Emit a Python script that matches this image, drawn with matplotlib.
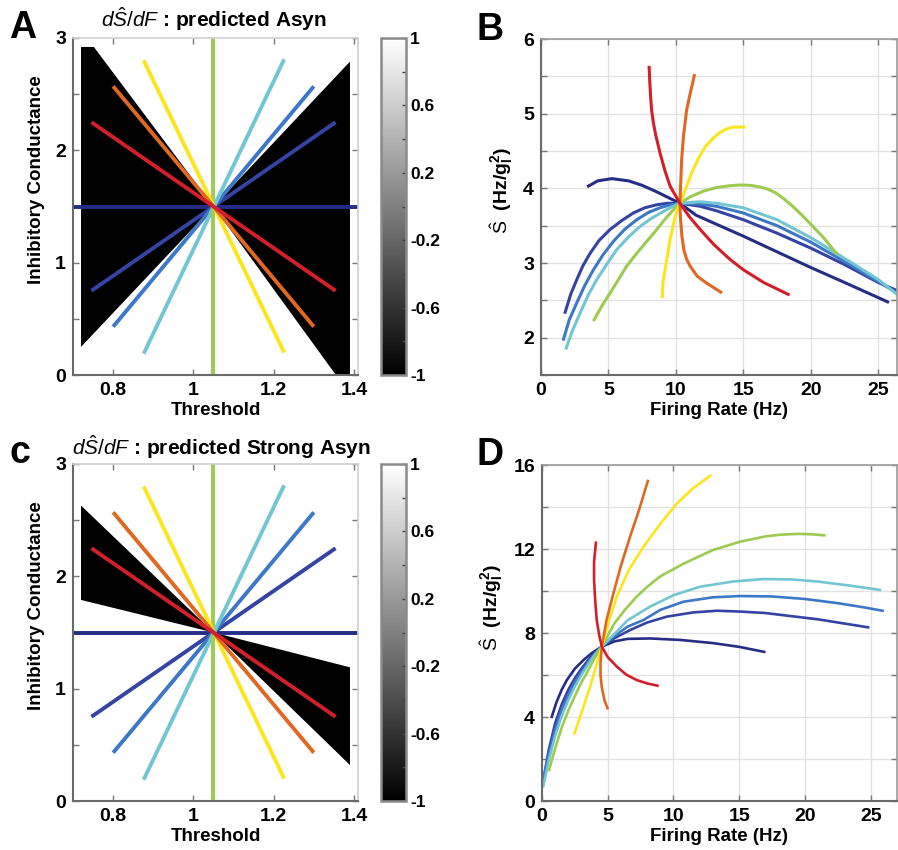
import numpy as np
import matplotlib.pyplot as plt
from matplotlib.ticker import MultipleLocator, FixedLocator, FuncFormatter
from matplotlib.cm import ScalarMappable
from matplotlib.colors import Normalize

plt.rcParams['font.family'] = ['Liberation Sans', 'DejaVu Sans']
plt.rcParams['font.weight'] = 'bold'
plt.rcParams['axes.unicode_minus'] = False
plt.rcParams['mathtext.fontset'] = 'custom'
plt.rcParams['mathtext.rm'] = 'Liberation Sans:weight=normal'
plt.rcParams['mathtext.it'] = 'Liberation Sans:style=italic:weight=normal'
plt.rcParams['mathtext.bf'] = 'Liberation Sans:weight=bold'

# line colours, dark blue -> red (same order in every panel)
line_colors = ['#252d85', '#3443a4', '#3d78c8', '#72c6d3',
               '#9dcb4f', '#fbe51d', '#e06822', '#d21f2a']

# A / C: straight paths through parameter space (threshold, inhibitory conductance)
thr_start = [0.70, 0.746, 0.80, 0.876, 1.05, 0.876, 0.80, 0.746]
thr_end = [1.41, 1.354, 1.30, 1.226, 1.05, 1.226, 1.30, 1.354]
gi_start = [1.5, 0.75, 0.43, 0.19, 0.0, 2.80, 2.57, 2.25]
gi_end = [1.5, 2.25, 2.57, 2.81, 3.0, 0.20, 0.43, 0.75]

# regions where dS/dF < 0 (black)
a_neg_left_x = [0.72, 0.752, 1.05, 0.72]
a_neg_left_y = [2.92, 2.92, 1.5, 0.25]
a_neg_right_x = [1.05, 1.39, 1.39, 1.355]
a_neg_right_y = [1.5, 2.79, 0.0, 0.0]
c_neg_left_x = [0.72, 1.05, 0.72]
c_neg_left_y = [2.63, 1.5, 1.79]
c_neg_right_x = [1.05, 1.39, 1.39]
c_neg_right_y = [1.5, 1.19, 0.32]

# B: S-hat vs firing rate (Asyn)
b_x = [
    [3.52, 4.2, 5.25, 6.5, 7.5, 8.5, 9.4, 10.3, 11.5, 13, 15, 17.5, 20, 22.5, 25.7],
    [1.79, 2.2, 2.66, 3.1, 3.64, 4.3, 5.13, 6.0, 6.85, 7.7, 8.58, 9.4, 10.3,
     11.8, 13, 15, 17.5, 20, 22.5, 25, 26.4],
    [1.67, 2.1, 2.66, 3.25, 3.89, 4.6, 5.37, 6.2, 7.1, 8.0, 8.83, 9.6, 10.3,
     11.8, 13, 15, 17.5, 20, 22.5, 25, 26.4],
    [1.87, 2.3, 2.9, 3.5, 4.14, 4.9, 5.62, 6.5, 7.35, 8.2, 9.07, 9.7, 10.3,
     11.8, 13, 15, 17.5, 20, 21.9, 23.5, 25, 26.4],
    [3.94, 4.5, 5.13, 5.75, 6.36, 7.1, 7.84, 8.5, 9.07, 9.7, 10.3,
     11, 12, 13, 14, 14.8, 15.5, 16.2, 16.8, 17.4, 18, 18.6, 19.3, 20, 21, 21.9],
    [9.0, 9.05, 9.2, 9.4, 9.57, 9.94, 10.3, 10.7, 11.2, 11.7, 12.2, 12.7,
     13.2, 13.7, 14.2, 15.05],
    [13.33, 12.29, 11.6, 11.05, 10.8, 10.6, 10.45, 10.35, 10.3, 10.36, 10.43,
     10.56, 10.8, 11.1, 11.37],
    [8.02, 8.06, 8.12, 8.2, 8.33, 8.5, 8.83, 9.2, 9.57, 10.3, 11.0, 11.8,
     12.8, 14.0, 15.0, 16.5, 18.33],
]
b_y = [
    [4.03, 4.10, 4.13, 4.10, 4.04, 3.96, 3.88, 3.80, 3.64, 3.52, 3.36, 3.15,
     2.94, 2.74, 2.48],
    [2.34, 2.58, 2.78, 2.96, 3.13, 3.30, 3.45, 3.57, 3.67, 3.74, 3.78, 3.80,
     3.80, 3.76, 3.70, 3.58, 3.40, 3.20, 2.98, 2.74, 2.63],
    [1.98, 2.24, 2.47, 2.70, 2.91, 3.11, 3.29, 3.45, 3.58, 3.68, 3.74, 3.78,
     3.80, 3.79, 3.76, 3.67, 3.50, 3.28, 3.02, 2.75, 2.60],
    [1.86, 2.08, 2.33, 2.57, 2.78, 2.99, 3.18, 3.35, 3.49, 3.60, 3.69, 3.75,
     3.80, 3.82, 3.80, 3.74, 3.58, 3.34, 3.13, 2.95, 2.78, 2.58],
    [2.24, 2.42, 2.60, 2.78, 2.96, 3.13, 3.29, 3.43, 3.56, 3.69, 3.80,
     3.88, 3.96, 4.01, 4.035, 4.045, 4.04, 4.02, 3.99, 3.94, 3.86, 3.77,
     3.65, 3.52, 3.33, 3.13],
    [2.55, 2.75, 2.91, 3.12, 3.31, 3.62, 3.80, 3.98, 4.22, 4.41, 4.56, 4.66,
     4.74, 4.79, 4.82, 4.82],
    [2.61, 2.73, 2.82, 2.96, 3.05, 3.17, 3.36, 3.58, 3.80, 4.07, 4.38, 4.69,
     5.05, 5.30, 5.51],
    [5.62, 5.45, 5.25, 5.05, 4.88, 4.72, 4.47, 4.23, 4.03, 3.80, 3.62, 3.45,
     3.25, 3.05, 2.91, 2.74, 2.58],
]

# D: S-hat vs firing rate (Strong Asyn)
d_x = [
    [0.74, 1.1, 1.5, 1.89, 2.5, 3.15, 3.8, 4.55, 5.5, 6.5, 8.23, 10.5, 13,
     15, 16.9],
    [0.2, 0.5, 1, 1.5, 2, 2.5, 3, 3.5, 4, 4.55, 5.5, 6.7, 8, 9.5, 11.5, 13.3,
     15.08, 17, 19, 21, 23, 24.8],
    [0.06, 0.5, 1, 1.5, 2, 2.5, 3, 3.5, 4, 4.55, 5.5, 6.5, 7.72, 9, 10.76, 13,
     15.08, 17.5, 20, 22.5, 24.5, 25.9],
    [0.1, 0.5, 1, 1.5, 2, 2.5, 3, 3.5, 4, 4.55, 5.5, 6.5, 8.2, 10, 12, 14.5,
     16.85, 19, 21, 23.5, 25.7],
    [0.54, 1, 1.5, 2, 2.5, 3, 3.5, 4, 4.55, 5.5, 6.3, 7.2, 8, 9, 10.76, 13,
     15.08, 17, 18.1, 19.5, 20.5, 21.47],
    [2.47, 3.0, 3.66, 4.1, 4.55, 5.1, 5.69, 6.6, 7.72, 9, 10.26, 11.5, 12.8],
    [4.98, 4.75, 4.55, 4.45, 4.45, 4.55, 4.9, 5.43, 6.0, 6.7, 7.4, 8.05],
    [4.1, 3.96, 3.96, 4.05, 4.16, 4.35, 4.55, 5.0, 5.69, 6.4, 7.2, 8.0, 8.78],
]
d_y = [
    [4.01, 4.7, 5.3, 5.76, 6.3, 6.71, 7.05, 7.35, 7.6, 7.72, 7.74, 7.67,
     7.52, 7.34, 7.1],
    [1.3, 2.4, 3.7, 4.6, 5.3, 5.85, 6.3, 6.7, 7.05, 7.35, 7.75, 8.14, 8.5,
     8.78, 8.98, 9.06, 9.02, 8.95, 8.8, 8.65, 8.45, 8.27],
    [1.0, 2.2, 3.4, 4.35, 5.05, 5.65, 6.15, 6.6, 7.0, 7.35, 7.85, 8.3, 8.62,
     9.1, 9.49, 9.7, 9.76, 9.74, 9.62, 9.42, 9.22, 9.06],
    [0.7, 1.9, 3.1, 4.05, 4.8, 5.45, 6.0, 6.5, 6.95, 7.35, 7.95, 8.6, 9.25,
     9.8, 10.2, 10.45, 10.57, 10.55, 10.45, 10.25, 10.05],
    [1.48, 2.5, 3.5, 4.3, 5.0, 5.65, 6.2, 6.8, 7.35, 8.45, 9.1, 9.73, 10.2,
     10.7, 11.3, 11.95, 12.35, 12.6, 12.68, 12.72, 12.7, 12.65],
    [3.22, 4.2, 5.44, 6.4, 7.35, 8.6, 9.73, 11.0, 12.11, 13.2, 14.17, 14.9,
     15.49],
    [4.42, 4.8, 5.4, 6.0, 6.6, 7.35, 8.6, 9.89, 11.2, 12.59, 13.9, 15.24],
    [12.3, 11.4, 10.52, 9.5, 8.62, 7.9, 7.35, 6.85, 6.4, 6.02, 5.76, 5.6,
     5.49],
]

W, H = 898, 850
fig = plt.figure(figsize=(W / 100, H / 100), dpi=100)


def box(l, t, r, b):
    return [l / W, 1 - b / H, (r - l) / W, (b - t) / H]


def labels_every(step):
    return FuncFormatter(lambda v, p: ('%g' % v) if abs(v / step - round(v / step)) < 1e-6 else '')


def param_panel(rect, crect, negs, title, title_xy, letter, letter_xy):
    ax = fig.add_axes(rect)
    for xs, ys in negs:
        ax.fill(xs, ys, color='black', lw=0, zorder=1)
    for i in range(len(line_colors)):
        ax.plot([thr_start[i], thr_end[i]], [gi_start[i], gi_end[i]],
                color=line_colors[i], lw=2.8, solid_capstyle='butt', zorder=2)
    ax.set_xlim(0.70, 1.41)
    ax.set_ylim(0, 3)
    ax.xaxis.set_major_locator(FixedLocator([0.8, 1.0, 1.2, 1.4]))
    ax.xaxis.set_major_formatter(FuncFormatter(lambda v, p: '%g' % round(v, 2)))
    ax.yaxis.set_major_locator(MultipleLocator(0.5))
    ax.yaxis.set_major_formatter(labels_every(1))
    ax.tick_params(direction='in', length=4, width=1, color='#777777',
                   labelsize=14, top=True, right=True, pad=5)
    for s in ['left', 'bottom']:
        ax.spines[s].set_color('#6a6a6a')
        ax.spines[s].set_linewidth(1.5)
    for s in ['top', 'right']:
        ax.spines[s].set_color('#d0d0d0')
        ax.spines[s].set_linewidth(1.2)
    ax.set_xlabel('Threshold', fontsize=13.5, fontweight='bold', labelpad=2)
    ax.set_ylabel('Inhibitory Conductance', fontsize=13.5, fontweight='bold',
                  labelpad=7, y=0.58)

    cax = fig.add_axes(crect)
    sm = ScalarMappable(norm=Normalize(-1, 1), cmap='gray')
    cb = fig.colorbar(sm, cax=cax)
    ticks = np.round(np.arange(-1, 1.01, 0.2), 1)
    cb.set_ticks(ticks)
    shown = [-1, -0.6, -0.2, 0.2, 0.6, 1]
    cb.set_ticklabels([('%g' % t) if any(abs(t - s) < 1e-6 for s in shown) else '' for t in ticks])
    cax.tick_params(direction='in', length=3, width=1, color='#444444',
                    labelsize=12.5, pad=3)
    cb.outline.set_edgecolor('#8a8a8a')
    cb.outline.set_linewidth(1.8)

    fig.text(title_xy[0] / W, 1 - title_xy[1] / H, title, fontsize=15,
             fontweight='bold', ha='center', va='baseline')
    fig.text(letter_xy[0] / W, 1 - letter_xy[1] / H, letter, fontsize=27,
             fontweight='bold', ha='center', va='baseline')
    return ax


def rate_panel(rect, xs, ys, xmax, ylim, ystep, ylab_step, lw, letter, letter_xy, ylab_y):
    ax = fig.add_axes(rect)
    for i in range(len(line_colors)):
        ax.plot(xs[i], ys[i], color=line_colors[i], lw=lw, zorder=2,
                solid_joinstyle='round')
    ax.set_xlim(0, xmax)
    ax.set_ylim(*ylim)
    ax.xaxis.set_major_locator(MultipleLocator(5))
    ax.yaxis.set_major_locator(MultipleLocator(ystep))
    ax.yaxis.set_major_formatter(labels_every(ylab_step))
    ax.grid(True, color='#e2e2e2', lw=1, zorder=0)
    ax.set_axisbelow(True)
    ax.tick_params(direction='in', length=4, width=1, color='#777777',
                   labelsize=14, top=True, right=True, pad=5)
    for s in ['left', 'bottom']:
        ax.spines[s].set_color('#6a6a6a')
        ax.spines[s].set_linewidth(1.5)
    for s in ['top', 'right']:
        ax.spines[s].set_color('#9a9a9a')
        ax.spines[s].set_linewidth(1.2)
    ax.set_xlabel('Firing Rate (Hz)', fontsize=13.5, fontweight='bold', labelpad=2)
    ax.set_ylabel(r'$\hat{\mathrm{S}}$  (Hz/g$_{\mathbf{I}}^{\mathbf{2}}$)',
                  fontsize=14, fontweight='bold', labelpad=6, y=ylab_y)
    fig.text(letter_xy[0] / W, 1 - letter_xy[1] / H, letter, fontsize=27,
             fontweight='bold', ha='center', va='baseline')
    return ax


param_panel(box(73, 38, 358, 375), box(381, 38, 406, 375),
            [(a_neg_left_x, a_neg_left_y), (a_neg_right_x, a_neg_right_y)],
            r'$d\hat{S}/dF$ : predicted Asyn', (214, 27), 'A', (23, 38))
param_panel(box(73, 464, 358, 801), box(381, 464, 406, 801),
            [(c_neg_left_x, c_neg_left_y), (c_neg_right_x, c_neg_right_y)],
            r'$d\hat{S}/dF$ : predicted Strong Asyn', (221, 455), 'c', (20, 463))

rate_panel(box(541, 39, 897, 375), b_x, b_y, 26.4, (1.5, 6), 0.5, 1, 2.2,
           'B', (490, 40), 0.55)
rate_panel(box(542, 465, 897, 801), d_x, d_y, 27.0, (0, 16), 2, 4, 1.9,
           'D', (490, 465), 0.577)

fig.savefig('out.png', dpi=100)
